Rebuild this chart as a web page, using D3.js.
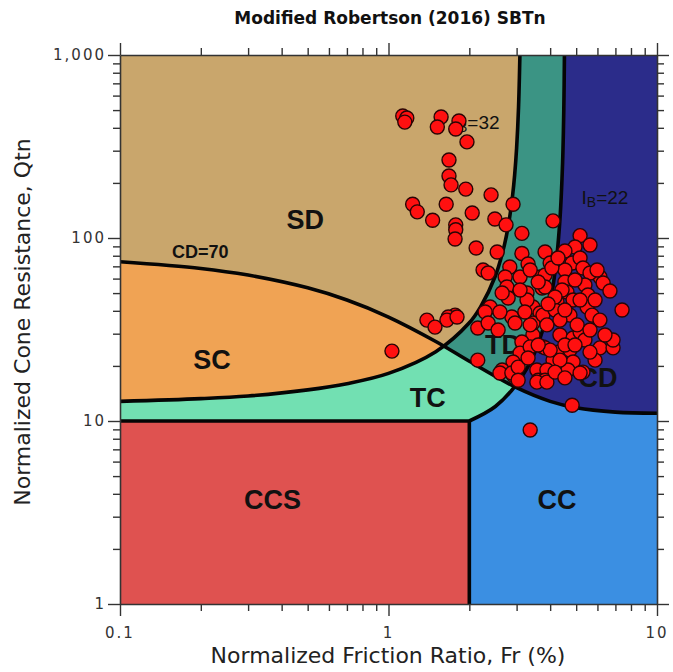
<!DOCTYPE html>
<html>
<head>
<meta charset="utf-8">
<script src="https://cdn.jsdelivr.net/npm/d3@7"></script>
<style>
  body { margin: 0; background: #ffffff; }
  text { font-family: "DejaVu Sans", Verdana, sans-serif; }
</style>
</head>
<body>
<svg id="chart" width="673" height="672"></svg>
<script>
// ---- CPT sounding points: normalized friction ratio Fr (%) and normalized cone resistance Qtn ----
const pointFr = [
  1.13, 1.17, 1.15, 1.57, 1.52, 1.83, 1.78, 1.96, 1.68, 1.68,
  1.71, 1.94, 2.41, 1.23, 1.28, 1.64, 2.05, 1.46, 1.78, 1.78,
  1.77, 2.49, 2.91, 2.74, 3.14, 4.10, 5.17, 5.63, 2.12, 2.54,
  3.14, 3.83, 3.31, 2.83, 2.25, 2.35, 2.72, 3.09, 3.67, 2.76,
  3.28, 2.79, 2.65, 3.73, 3.45, 2.39, 2.29, 1.77, 1.67, 2.88,
  3.67,
  4.95, 4.54, 4.00, 4.83, 5.17, 4.54, 5.30, 3.83, 6.13, 5.63,
  6.30, 6.68, 4.54, 5.39, 3.83, 4.62, 5.53, 7.41, 4.24, 4.87,
  5.49, 4.00, 4.74, 5.73,
  1.65, 1.80, 2.15, 2.35, 2.56, 2.96, 3.45, 3.76, 3.45, 3.14,
  3.76, 3.09, 2.91, 2.15, 2.65, 2.91, 3.57, 3.61, 3.89,
  3.89, 4.35, 4.87, 5.17, 3.83, 4.28, 4.74, 4.87, 6.13, 6.86,
  6.86, 5.88, 4.10, 3.89, 4.66, 5.30, 3.83,
  1.03, 1.39, 1.49, 2.60, 2.88, 3.57, 3.89, 4.83, 3.37, 5.17, 3.04,
  3.28, 4.17, 5.04, 4.35, 3.37, 4.54, 5.39,
  3.37, 3.61, 4.06, 4.28, 4.43, 4.95, 4.17, 3.93, 4.54, 5.17,
  5.88, 6.13, 5.63, 4.95, 4.35, 4.00, 3.37, 3.22, 3.61, 3.31,
  4.17, 4.54, 5.63, 6.40, 5.98, 3.09, 2.60, 3.04
];
const pointQtn = [
  464, 453, 430, 458, 404, 436, 394, 335, 267, 218,
  195, 185, 172, 153, 139, 153, 137, 125, 118, 111,
  98.7, 127, 153, 118, 106, 124, 103, 91.6, 88.2, 83.8,
  82.3, 83.8, 72.1, 69.4, 66.9, 64.4, 61.2, 61.2, 61.2, 54.0,
  50.1, 47.0, 50.1, 53.3, 42.0, 42.0, 39.4, 37.9, 37.0, 37.0,
  38.9,
  89.3, 84.9, 73.0, 73.0, 77.8, 66.9, 68.6, 62.8, 61.2, 64.4,
  56.8, 51.3, 57.5, 55.4, 54.0, 50.7, 48.8, 40.4, 44.7, 45.8,
  42.0, 41.4, 37.9, 37.9,
  35.6, 37.0, 32.2, 34.3, 31.4, 34.3, 34.3, 37.9, 29.5, 27.0,
  25.4, 23.5, 21.0, 21.5, 19.0, 17.8, 19.0, 16.7, 17.8,
  33.5, 29.5, 28.4, 30.6, 25.1, 23.8, 24.4, 21.0, 25.1, 25.1,
  27.7, 21.5, 21.5, 19.0, 19.0, 18.5, 16.7,
  24.1, 35.6, 32.6, 18.3, 18.3, 16.3, 16.3, 12.2, 8.93, 18.3, 19.7,
  45.8, 40.4, 33.5, 35.6, 25.4, 26.0, 27.7,
  66.9, 57.5, 68.6, 77.8, 52.0, 58.9, 47.6, 43.6, 40.4, 45.8,
  45.8, 35.6, 31.4, 26.0, 21.5, 24.4, 33.5, 39.4, 26.0, 22.1,
  18.5, 17.2, 23.8, 29.5, 66.9, 52.0, 39.4, 16.7
];

// ---- SBTn zone boundaries as [Fr, Qtn] vertices ----
const boundaryCD70 = [[0.1, 74.2], [0.2, 68.2], [0.3, 62.7], [0.5, 53.4], [0.7, 45.8], [1, 37.0],
  [1.5, 27.2], [2, 21.2], [3, 15.2], [4, 12.8], [5, 11.8], [7, 11.18], [10, 11.02]];
const boundaryIB32 = [[0.1, 12.8], [0.2, 13.25], [0.3, 13.7], [0.5, 14.8], [0.7, 16.0], [1, 18.2],
  [1.5, 23.9], [2, 34.4], [2.2, 41.9], [2.5, 62], [2.7, 91.2], [2.8, 119], [2.9, 172], [2.95, 221],
  [3.0, 310], [3.05, 517], [3.086, 1000]];
const boundaryIB22 = [[2.0, 10], [2.5, 12], [3, 15.9], [3.5, 23.5], [4, 45], [4.2, 71], [4.35, 126],
  [4.45, 257], [4.5, 540], [4.521, 1000]];
const ccsLimitFr = 2.0;
const ccsLimitQtn = 10;

// ---- zone names, label anchors and fills ----
const zoneNames = ["SD", "SC", "TC", "TD", "CD", "CCS", "CC"];
const zoneLabelFr = [0.49, 0.22, 1.40, 2.67, 6.03, 0.37, 4.24];
const zoneLabelQtn = [125, 21.5, 13.4, 26.0, 17.2, 3.7, 3.7];
const zoneColors = {
  SD: "#c9a66c", SC: "#f0a354", TC: "#72e0b2", TD: "#3b9484",
  CD: "#2b2c8a", CCS: "#df5250", CC: "#3b8fe2"
};

// ---- axis ticks ----
const xTickValues = [0.1, 1, 10];
const xTickLabels = ["0.1", "1", "10"];
const yTickValues = [1, 10, 100, 1000];
const yTickLabels = ["1", "10", "100", "1,000"];

const chartTitle = "Modified Robertson (2016) SBTn";
const xTitle = "Normalized Friction Ratio, Fr (%)";
const yTitle = "Normalized Cone Resistance, Qtn";

// ---- layout ----
const svg = d3.select("#chart");
const plotLeft = 120, plotRight = 657, plotTop = 55, plotBottom = 604;

const x = d3.scaleLog().domain([0.1, 10]).range([plotLeft, plotRight]);
const y = d3.scaleLog().domain([1, 1000]).range([plotBottom, plotTop]);

const curve = d3.curveCatmullRom.alpha(0.5);
const line = d3.line().x(d => x(d[0])).y(d => y(d[1])).curve(curve);

// closed shape: a boundary curve followed by straight corner vertices
function shape(points, corners) {
  let p = line(points);
  corners.forEach(c => { p += "L" + x(c[0]) + "," + y(c[1]); });
  return p + "Z";
}

const defs = svg.append("defs");
defs.append("clipPath").attr("id", "plotClip")
  .append("rect").attr("x", plotLeft).attr("y", plotTop)
  .attr("width", plotRight - plotLeft).attr("height", plotBottom - plotTop);
defs.append("clipPath").attr("id", "belowCD70")
  .append("path").attr("d", shape(boundaryCD70, [[10, 1], [0.1, 1]]));

const zones = svg.append("g").attr("clip-path", "url(#plotClip)");

// dilative side (above CD = 70)
zones.append("rect").attr("x", plotLeft).attr("y", plotTop)
  .attr("width", plotRight - plotLeft).attr("height", plotBottom - plotTop)
  .attr("fill", zoneColors.CD);
zones.append("path").attr("d", shape(boundaryIB22, [[0.1, 1000], [0.1, 10]]))
  .attr("fill", zoneColors.TD);
zones.append("path").attr("d", shape(boundaryIB32, [[0.1, 1000]]))
  .attr("fill", zoneColors.SD);

// contractive side (below CD = 70)
const contractive = zones.append("g").attr("clip-path", "url(#belowCD70)");
contractive.append("rect").attr("x", plotLeft).attr("y", plotTop)
  .attr("width", plotRight - plotLeft).attr("height", plotBottom - plotTop)
  .attr("fill", zoneColors.CC);
contractive.append("path").attr("d", shape(boundaryIB22, [[0.1, 1000], [0.1, 10]]))
  .attr("fill", zoneColors.TC);
contractive.append("path").attr("d", shape(boundaryIB32, [[0.1, 1000]]))
  .attr("fill", zoneColors.SC);

// low-resistance zones
zones.append("rect")
  .attr("x", x(ccsLimitFr)).attr("y", y(ccsLimitQtn))
  .attr("width", x(10) - x(ccsLimitFr)).attr("height", y(1) - y(ccsLimitQtn))
  .attr("fill", zoneColors.CC);
zones.append("rect")
  .attr("x", x(0.1)).attr("y", y(ccsLimitQtn))
  .attr("width", x(ccsLimitFr) - x(0.1)).attr("height", y(1) - y(ccsLimitQtn))
  .attr("fill", zoneColors.CCS);

// boundary lines
const lines = svg.append("g").attr("clip-path", "url(#plotClip)")
  .attr("fill", "none").attr("stroke", "#050505")
  .attr("stroke-width", 3.6).attr("stroke-linejoin", "round");
lines.append("path").attr("d", line(boundaryCD70));
lines.append("path").attr("d", line(boundaryIB32));
lines.append("path").attr("d", line(boundaryIB22));
lines.append("path").attr("d", d3.line().x(d => x(d[0])).y(d => y(d[1]))(
  [[0.1, ccsLimitQtn], [ccsLimitFr, ccsLimitQtn], [ccsLimitFr, 1]]));

// zone labels
const labels = svg.append("g");
zoneNames.forEach((name, i) => {
  labels.append("text")
    .attr("x", x(zoneLabelFr[i])).attr("y", y(zoneLabelQtn[i]))
    .attr("text-anchor", "middle").attr("dominant-baseline", "central")
    .style("font-family", "'Liberation Sans', Arial, sans-serif")
    .style("font-weight", "bold").style("font-size", "27px")
    .attr("fill", "#111").text(name);
});
labels.append("text")
  .attr("x", x(0.199)).attr("y", y(83.8))
  .attr("text-anchor", "middle").attr("dominant-baseline", "central")
  .style("font-family", "'Liberation Sans', Arial, sans-serif")
  .style("font-weight", "bold").style("font-size", "18px")
  .attr("fill", "#111").text("CD=70");

function ibLabel(fr, q, value) {
  const t = labels.append("text")
    .attr("x", x(fr)).attr("y", y(q))
    .attr("text-anchor", "middle").attr("dominant-baseline", "central")
    .style("font-family", "'Liberation Sans', Arial, sans-serif")
    .style("font-size", "19px").attr("fill", "#111");
  t.append("tspan").text("I");
  t.append("tspan").attr("dy", 5).style("font-size", "14px").text("B");
  t.append("tspan").attr("dy", -5).text("=" + value);
}
ibLabel(2.12, 430, 32);
ibLabel(6.40, 167, 22);

// data points
svg.append("g").selectAll("circle")
  .data(pointFr.map((fr, i) => [fr, pointQtn[i]]))
  .join("circle")
  .attr("cx", d => x(d[0])).attr("cy", d => y(d[1]))
  .attr("r", 7)
  .attr("fill", "#ff1010").attr("stroke", "#2a0505").attr("stroke-width", 1.4);

// ---- axes: ticks on all four sides, pointing outward ----
function minorTicks(lo, hi) {
  const v = [];
  for (let d = lo; d < hi * 0.999; d *= 10) for (let k = 1; k < 10; k++) v.push(d * k);
  v.push(hi);
  return v;
}
const xMinor = minorTicks(0.1, 10);
const yMinor = minorTicks(1, 1000);
const isMajor = v => Math.abs(Math.log10(v) - Math.round(Math.log10(v))) < 1e-9;

function styleAxis(g) {
  g.selectAll(".domain").attr("stroke", "#333").attr("stroke-width", 1.6);
  g.selectAll(".tick line").attr("stroke", "#333").attr("stroke-width", 1.4);
}

const axBottom = svg.append("g").attr("transform", `translate(0,${plotBottom})`)
  .call(d3.axisBottom(x).tickValues(xMinor).tickSize(7).tickSizeOuter(0).tickFormat(""));
axBottom.selectAll(".tick line").attr("y2", d => isMajor(d) ? 12 : 7);
styleAxis(axBottom);

const axTop = svg.append("g").attr("transform", `translate(0,${plotTop})`)
  .call(d3.axisTop(x).tickValues(xMinor).tickSize(7).tickSizeOuter(0).tickFormat(""));
axTop.selectAll(".tick line").attr("y2", d => isMajor(d) ? -12 : -7);
styleAxis(axTop);

const axLeft = svg.append("g").attr("transform", `translate(${plotLeft},0)`)
  .call(d3.axisLeft(y).tickValues(yMinor).tickSize(7).tickSizeOuter(0).tickFormat(""));
axLeft.selectAll(".tick line").attr("x2", d => isMajor(d) ? -12 : -7);
styleAxis(axLeft);

const axRight = svg.append("g").attr("transform", `translate(${plotRight},0)`)
  .call(d3.axisRight(y).tickValues(yMinor).tickSize(7).tickSizeOuter(0).tickFormat(""));
axRight.selectAll(".tick line").attr("x2", d => isMajor(d) ? 12 : 7);
styleAxis(axRight);

// tick labels
svg.append("g").selectAll("text").data(xTickValues).join("text")
  .attr("x", d => x(d)).attr("y", plotBottom + 29)
  .attr("text-anchor", "middle").attr("dominant-baseline", "central")
  .style("font-size", "15px").style("letter-spacing", "2px").attr("fill", "#333")
  .text((d, i) => xTickLabels[i]);
svg.append("g").selectAll("text").data(yTickValues).join("text")
  .attr("x", plotLeft - 14).attr("y", d => y(d))
  .attr("text-anchor", "end").attr("dominant-baseline", "central")
  .style("font-size", "15px").style("letter-spacing", "2px").attr("fill", "#333")
  .text((d, i) => yTickLabels[i]);

// titles
svg.append("text").attr("x", 390).attr("y", 18)
  .attr("text-anchor", "middle").attr("dominant-baseline", "central")
  .style("font-weight", "bold").style("font-size", "17px").attr("fill", "#111")
  .text(chartTitle);
svg.append("text").attr("x", 388).attr("y", 655)
  .attr("text-anchor", "middle").attr("dominant-baseline", "central")
  .style("font-size", "22px").attr("fill", "#222")
  .text(xTitle);
svg.append("text")
  .attr("transform", `translate(22,322) rotate(-90)`)
  .attr("text-anchor", "middle").attr("dominant-baseline", "central")
  .style("font-size", "22px").attr("fill", "#222")
  .text(yTitle);
</script>
</body>
</html>
